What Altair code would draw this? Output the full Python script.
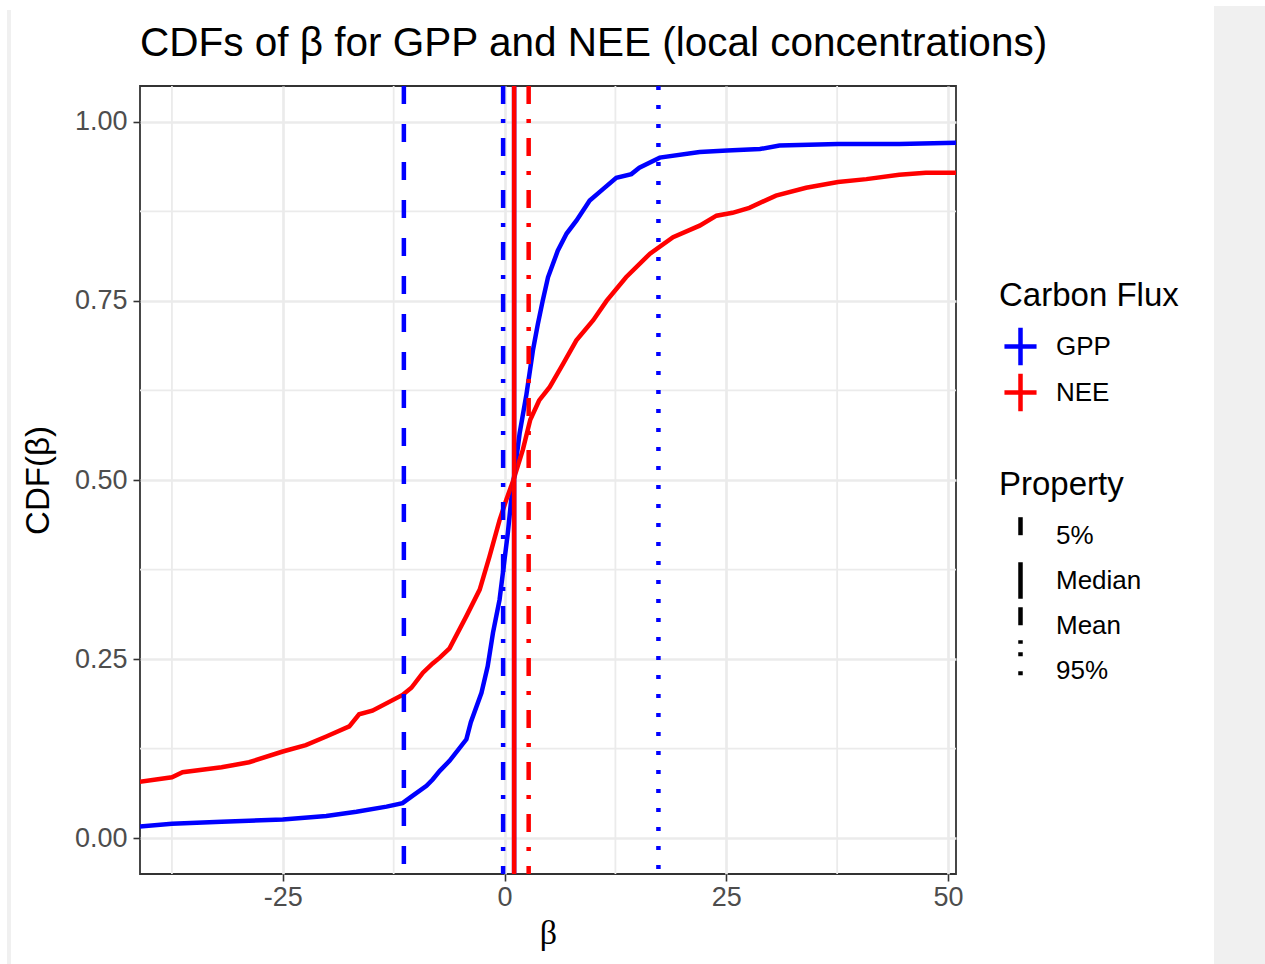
import altair as alt
import pandas as pd

# ---- data ----
gpp_beta = [-41.5, -37.5, -31.9, -25.0, -20.1, -16.7, -13.3, -11.5, -10.5, -8.8, -8.1, -7.3, -6.2,
            -4.3, -3.8, -2.6, -1.9, -1.3, -0.56, 0.0, 0.37, 0.75, 1.13, 1.7, 2.45, 3.2, 3.76, 4.3,
            4.9, 6.0, 7.0, 8.1, 9.6, 11.1, 12.6, 14.3, 15.2, 17.5, 22.0, 25.1, 28.8, 31.0, 37.6,
            44.5, 51.5]
gpp_cdf = [0.016, 0.020, 0.023, 0.026, 0.031, 0.037, 0.044, 0.049, 0.058, 0.073, 0.082, 0.094, 0.108,
           0.138, 0.162, 0.203, 0.240, 0.287, 0.333, 0.389, 0.426, 0.472, 0.510, 0.565, 0.618, 0.681,
           0.718, 0.750, 0.783, 0.820, 0.844, 0.862, 0.890, 0.906, 0.922, 0.927, 0.936, 0.950, 0.958,
           0.960, 0.962, 0.967, 0.969, 0.969, 0.971]

nee_beta = [-41.5, -37.5, -36.3, -31.9, -28.8, -25.0, -22.4, -20.1, -17.5, -16.4, -14.9, -11.5,
            -10.5, -9.2, -8.1, -7.3, -6.2, -4.3, -2.8, -1.7, -0.56, 0.19, 1.0, 2.06, 2.9, 3.9,
            5.1, 6.6, 8.1, 10.0, 11.5, 13.7, 16.4, 19.0, 22.0, 23.9, 25.7, 27.6, 30.6, 34.0, 37.6,
            40.8, 44.5, 47.5, 51.5]
nee_cdf = [0.078, 0.085, 0.092, 0.099, 0.106, 0.121, 0.130, 0.142, 0.156, 0.173, 0.178, 0.200,
           0.210, 0.231, 0.244, 0.252, 0.265, 0.310, 0.347, 0.393, 0.444, 0.472, 0.500, 0.542, 0.584,
           0.611, 0.630, 0.662, 0.695, 0.723, 0.750, 0.783, 0.816, 0.839, 0.855, 0.869, 0.873, 0.880,
           0.897, 0.908, 0.916, 0.920, 0.926, 0.929, 0.929]

stat_flux = ["GPP", "GPP", "GPP", "GPP", "NEE", "NEE"]
stat_property = ["5%", "Median", "Mean", "95%", "Median", "Mean"]
stat_beta = [-11.35, 1.08, -0.16, 17.35, 1.08, 2.72]

flux_names = ["GPP", "NEE"]
flux_colors = ["#0000FF", "#FF0000"]
property_names = ["5%", "Median", "Mean", "95%"]
property_dashes = [[18, 20], [1, 0], [18, 15, 4, 15], [4, 15]]

x_major = [-25, 0, 25, 50]
x_minor = [-37.5, -12.5, 12.5, 37.5]
y_major = [0.0, 0.25, 0.5, 0.75, 1.0]
y_minor = [0.125, 0.375, 0.625, 0.875]

# ---- tables ----
curves = pd.concat([
    pd.DataFrame({"beta": gpp_beta, "cdf": gpp_cdf, "flux": "GPP"}),
    pd.DataFrame({"beta": nee_beta, "cdf": nee_cdf, "flux": "NEE"}),
])
stats = pd.DataFrame({"beta": stat_beta, "flux": stat_flux, "property": stat_property})
xminor_df = pd.DataFrame({"beta": x_minor})
yminor_df = pd.DataFrame({"cdf": y_minor})
deco_df = pd.DataFrame({"k": [0]})

FONT = "Liberation Sans"
GRID = "#EBEBEB"

xs = alt.Scale(domain=[-41.1, 50.9], nice=False, zero=False)
ys = alt.Scale(domain=[-0.05, 1.05], nice=False, zero=False)

xaxis = alt.Axis(values=x_major, title="β", titleFont="Liberation Serif", titleFontSize=34,
                 titleFontWeight="normal", titleColor="black", titlePadding=6,
                 labelFont=FONT, labelFontSize=27, labelColor="#4D4D4D", labelPadding=3,
                 labelExpr="replace(datum.label, '−', '-')",
                 tickColor="#333333", tickSize=7, tickWidth=1.6, domain=False,
                 grid=True, gridColor=GRID, gridWidth=2.7, labelFlush=False)
yaxis = alt.Axis(values=y_major, format=".2f", title="CDF(β)", titleFont=FONT, titleFontSize=33,
                 titleFontWeight="normal", titleColor="black", titlePadding=19,
                 labelFont=FONT, labelFontSize=27, labelColor="#4D4D4D", labelPadding=6,
                 tickColor="#333333", tickSize=7, tickWidth=1.6, domain=False,
                 grid=True, gridColor=GRID, gridWidth=2.7)

X = alt.X("beta:Q", scale=xs, axis=xaxis)
Y = alt.Y("cdf:Q", scale=ys, axis=yaxis)

color_enc = alt.Color(
    "flux:N",
    scale=alt.Scale(domain=flux_names, range=flux_colors),
    legend=alt.Legend(title="Carbon Flux", orient="none", legendX=859, legendY=194,
                      titleFont=FONT, titleFontSize=33, titleFontWeight="normal",
                      titleColor="black", titlePadding=16, titleBaseline="top",
                      labelFont=FONT, labelFontSize=26, labelColor="black", labelOffset=18,
                      symbolType="M-1.07,0H1.07M0,-1.25V1.25", symbolSize=900, symbolOffset=4,
                      symbolStrokeWidth=4.5, symbolFillColor="transparent",
                      rowPadding=-20, padding=0),
)
dash_enc = alt.StrokeDash(
    "property:N",
    scale=alt.Scale(domain=property_names, range=property_dashes),
    legend=alt.Legend(title="Property", orient="none", legendX=859, legendY=383,
                      titleFont=FONT, titleFontSize=33, titleFontWeight="normal",
                      titleColor="black", titlePadding=16, titleBaseline="top",
                      labelFont=FONT, labelFontSize=26, labelColor="black", labelOffset=18,
                      symbolType="M0,-1.22V1.22", symbolSize=900, symbolStrokeWidth=4.5,
                      symbolOffset=4,
                      symbolStrokeColor="black", symbolFillColor="transparent",
                      rowPadding=-20, padding=0),
)

# decorative frame strips of the reference screenshot
deco_left = alt.Chart(deco_df).mark_rect(color="#F0F0F0").encode(
    x=alt.value(-133), x2=alt.value(-129), y=alt.value(-76), y2=alt.value(878))
deco_right = alt.Chart(deco_df).mark_rect(color="#F0F0F0").encode(
    x=alt.value(1074), x2=alt.value(1130), y=alt.value(-80), y2=alt.value(878))

minor_x = alt.Chart(xminor_df).mark_rule(color=GRID, strokeWidth=1.8).encode(x=X)
minor_y = alt.Chart(yminor_df).mark_rule(color=GRID, strokeWidth=1.8).encode(y=Y)

lines = alt.Chart(curves).mark_line(strokeWidth=4.5, clip=True).encode(
    x=X, y=Y, color=color_enc, detail="flux:N")

vlines = alt.Chart(stats).mark_rule(strokeWidth=4.5, clip=True).encode(
    x=X, color=color_enc, strokeDash=dash_enc)

chart = alt.layer(deco_left, deco_right, minor_x, minor_y, lines, vlines).properties(
    width=816, height=788,
    title=alt.TitleParams("CDFs of β for GPP and NEE (local concentrations)", anchor="start",
                          frame="group", font=FONT, fontSize=40.5, fontWeight="normal",
                          color="black", baseline="alphabetic", offset=-90),
    autosize=alt.AutoSizeParams(type="none"),
    padding={"left": 140, "top": 86, "right": 309, "bottom": 90},
    background="white",
).configure_view(stroke="#333333", strokeWidth=1.8)

chart.save("out.html", embed_options={"renderer": "svg", "actions": False})
